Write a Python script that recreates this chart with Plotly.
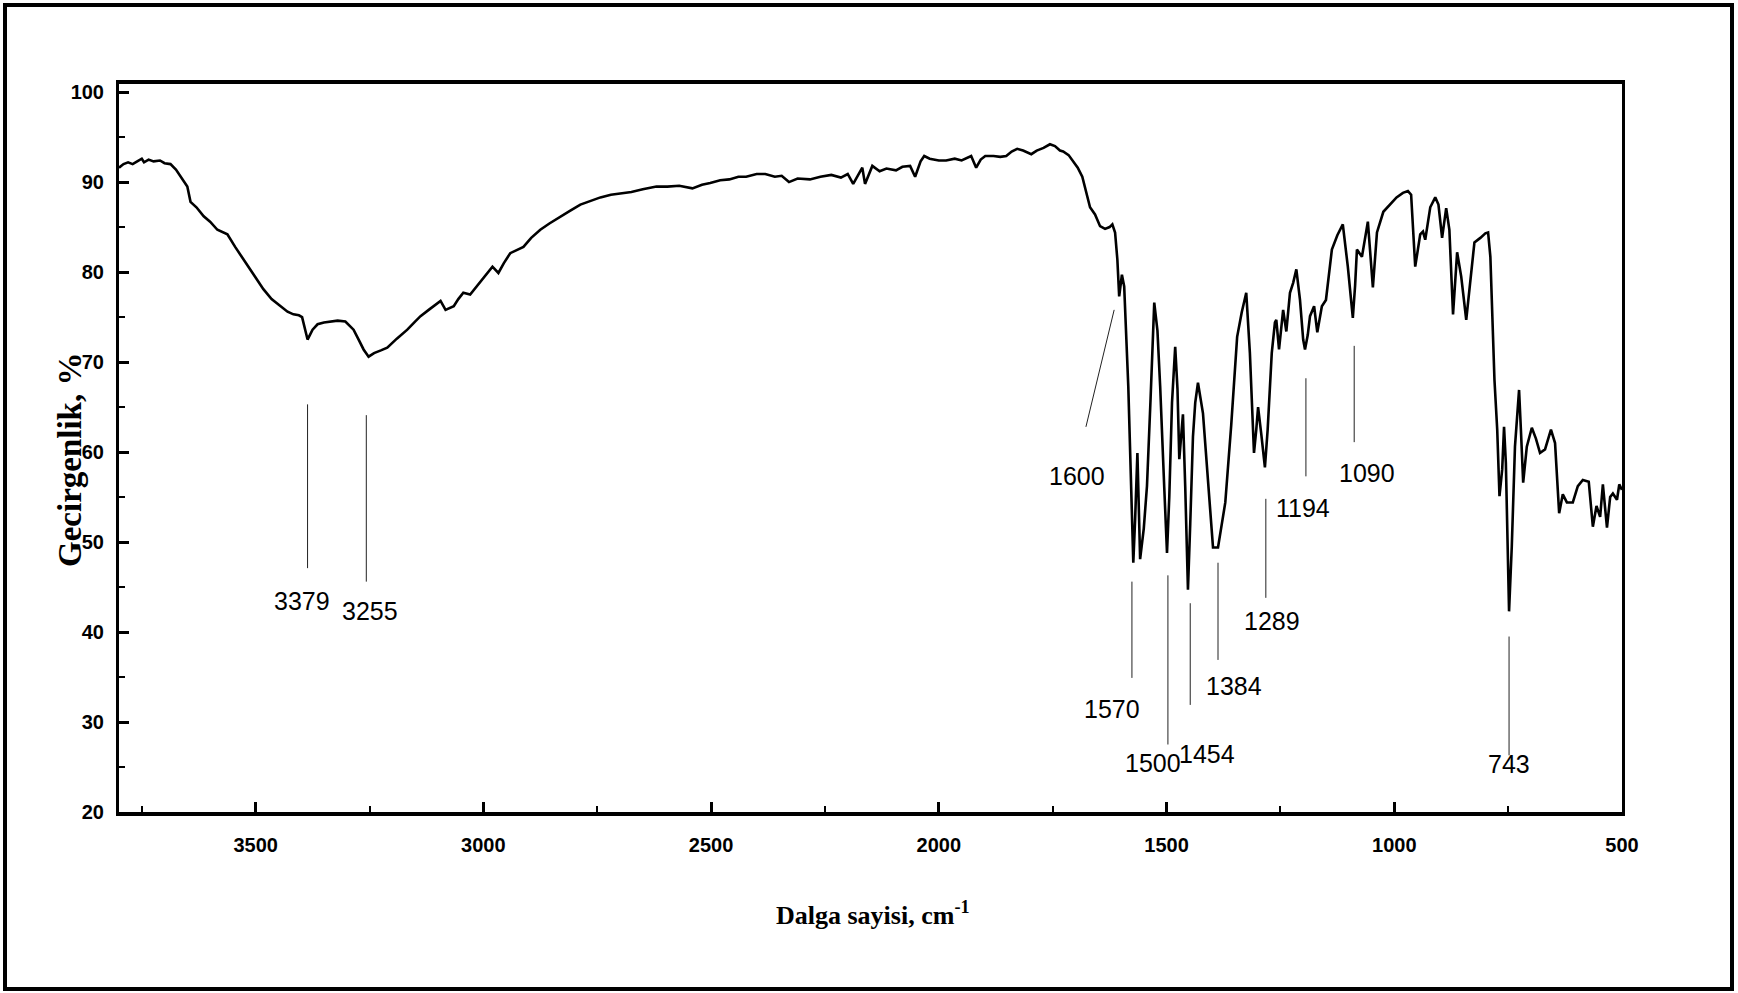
import plotly.graph_objects as go

# ---------------- data ----------------
wavenumber = [
    3800, 3790, 3780, 3770, 3760, 3750, 3745, 3735, 3724, 3710, 3700, 3687, 3675, 3665, 3650,
    3643, 3630, 3614, 3600, 3584, 3570, 3562, 3545, 3527, 3505, 3483, 3465, 3446, 3430, 3417,
    3405, 3398, 3390, 3386, 3375, 3364, 3350, 3336, 3320, 3303, 3290, 3285, 3273, 3263, 3252,
    3240, 3225, 3211, 3190, 3167, 3150, 3138, 3120, 3110, 3094, 3083, 3075, 3065, 3055, 3044,
    3029, 3018, 3007, 2995, 2980, 2967, 2955, 2941, 2925, 2912, 2895, 2875, 2855, 2831, 2810,
    2787, 2765, 2743, 2720, 2700, 2675, 2650, 2620, 2596, 2570, 2541, 2520, 2502, 2480, 2460,
    2440, 2423, 2400, 2381, 2360, 2345, 2329, 2310, 2283, 2260, 2236, 2215, 2200, 2188, 2175,
    2168, 2162, 2146, 2130, 2115, 2094, 2080, 2063, 2052, 2040, 2032, 2020, 2000, 1984, 1965,
    1950, 1935, 1929, 1918, 1908, 1898, 1880, 1865, 1852, 1840, 1828, 1815, 1797, 1785, 1770,
    1756, 1745, 1734, 1727, 1715, 1705, 1695, 1685, 1674, 1668, 1657, 1646, 1635, 1625, 1619,
    1613, 1608, 1604, 1598, 1593, 1584, 1576, 1573, 1569, 1564, 1561, 1558, 1550, 1543, 1535,
    1527, 1520, 1514, 1505, 1499, 1494, 1488, 1481, 1476, 1472, 1468, 1464, 1459, 1453, 1448,
    1442, 1437, 1431, 1420, 1410, 1398, 1387, 1380, 1371, 1358, 1345, 1335, 1325, 1317, 1308,
    1303, 1299, 1292, 1284, 1278, 1269, 1262, 1259, 1253, 1244, 1237, 1229, 1222, 1215, 1207,
    1200, 1196, 1190, 1185, 1176, 1169, 1159, 1150, 1137, 1125, 1113, 1102, 1091, 1086, 1082,
    1071, 1058, 1047, 1038, 1024, 1010, 995, 981, 970, 963, 954, 943, 937, 932, 921,
    910, 903, 895, 886, 879, 871, 862, 853, 842, 833, 824, 811, 800, 794, 789,
    780, 774, 769, 763, 759, 755, 748, 742, 735, 726, 722, 717, 709, 698, 689,
    680, 669, 656, 647, 638, 630, 621, 608, 597, 586, 573, 564, 556, 548, 542,
    533, 526, 520, 511, 506, 500,
]
transmittance = [
    91.6, 92.0, 92.2, 92.0, 92.3, 92.6, 92.2, 92.5, 92.3, 92.4, 92.1, 92.0, 91.4, 90.6, 89.5,
    87.8, 87.2, 86.2, 85.6, 84.7, 84.4, 84.2, 82.8, 81.4, 79.7, 78.1, 77.0, 76.2, 75.6, 75.3,
    75.2, 75.0, 73.4, 72.5, 73.6, 74.2, 74.4, 74.5, 74.6, 74.5, 73.9, 73.6, 72.4, 71.4, 70.6,
    71.0, 71.3, 71.6, 72.6, 73.6, 74.5, 75.1, 75.8, 76.2, 76.8, 75.8, 76.0, 76.2, 77.0, 77.7,
    77.5, 78.2, 78.8, 79.6, 80.6, 79.9, 81.0, 82.1, 82.5, 82.8, 83.8, 84.7, 85.4, 86.2, 86.8,
    87.5, 87.9, 88.3, 88.6, 88.7, 88.9, 89.2, 89.5, 89.5, 89.6, 89.3, 89.7, 89.9, 90.2, 90.3,
    90.6, 90.6, 90.9, 90.9, 90.6, 90.7, 90.0, 90.4, 90.3, 90.6, 90.8, 90.5, 90.9, 89.8, 91.0,
    91.6, 89.8, 91.8, 91.2, 91.5, 91.3, 91.7, 91.8, 90.6, 92.3, 92.9, 92.6, 92.4, 92.4, 92.6,
    92.4, 92.8, 92.9, 91.6, 92.5, 92.9, 92.9, 92.8, 92.9, 93.4, 93.7, 93.5, 93.1, 93.5, 93.8,
    94.2, 94.0, 93.5, 93.4, 93.0, 92.3, 91.6, 90.6, 88.4, 87.2, 86.4, 85.1, 84.8, 85.0, 85.3,
    84.4, 81.4, 77.3, 79.7, 78.4, 67.3, 52.0, 47.7, 52.5, 59.9, 54.0, 48.1, 51.5, 56.2, 66.0,
    76.6, 73.5, 67.3, 56.0, 48.8, 55.0, 65.5, 71.7, 67.0, 59.2, 62.0, 64.2, 56.2, 44.7, 52.0,
    61.7, 65.5, 67.7, 64.3, 57.0, 49.4, 49.4, 51.5, 54.4, 63.0, 72.8, 75.5, 77.7, 71.0, 59.9,
    62.5, 65.0, 62.0, 58.3, 62.5, 71.0, 74.4, 74.7, 71.4, 75.8, 73.4, 77.7, 78.8, 80.3, 76.9,
    72.5, 71.4, 73.0, 75.1, 76.2, 73.3, 76.2, 76.9, 82.5, 84.1, 85.3, 80.6, 74.9, 78.5, 82.5,
    81.7, 85.6, 78.3, 84.4, 86.7, 87.5, 88.3, 88.8, 89.0, 88.6, 80.6, 84.2, 84.5, 83.6, 87.2,
    88.3, 87.5, 83.8, 87.1, 84.7, 75.3, 82.2, 79.5, 74.7, 79.2, 83.3, 83.8, 84.3, 84.4, 81.7,
    68.0, 62.5, 55.1, 58.1, 62.8, 58.8, 42.3, 49.5, 60.6, 66.9, 62.5, 56.6, 60.6, 62.7, 61.5,
    59.9, 60.3, 62.5, 61.0, 53.2, 55.3, 54.4, 54.4, 56.2, 56.9, 56.7, 51.7, 54.0, 52.8, 56.4,
    51.6, 55.0, 55.4, 54.7, 56.4, 55.8,
]

x_tick_values = [3500, 3000, 2500, 2000, 1500, 1000, 500]
y_tick_values = [20, 30, 40, 50, 60, 70, 80, 90, 100]

peak_labels = ["3379", "3255", "1600", "1570", "1500", "1454", "1384", "1289", "1194", "1090", "743"]

# ---------------- layout helpers (positions of annotation labels / leader lines) ----------------
# (line x0, line y0, line x1, line y1, label x, label y)
peak_marks = [
    (3386, 47.1, 3386, 65.3, 3398, 43.4),
    (3257, 45.6, 3257, 64.1, 3250, 42.3),
    (1677, 62.8, 1615, 75.8, 1696, 57.3),
    (1576, 34.9, 1576, 45.6, 1620, 31.5),
    (1497, 27.5, 1497, 46.3, 1530, 25.5),
    (1448, 31.9, 1448, 43.2, 1411, 26.5),
    (1387, 36.9, 1387, 47.7, 1352, 34.0),
    (1282, 43.8, 1282, 54.8, 1268, 41.2),
    (1194, 57.3, 1194, 68.2, 1200, 53.8),
    (1088, 61.1, 1088, 71.8, 1060, 57.7),
    (748, 26.3, 748, 39.5, 748, 25.3),
]

W, H = 1738, 993
ML, MR, MT, MB = 119, 116, 84, 181
PW, PH = W - ML - MR, H - MT - MB


def px_to_paper(px, py):
    return (px - ML) / PW, (H - MB - py) / PH


fig = go.Figure()
fig.add_trace(go.Scatter(
    x=wavenumber, y=transmittance, mode="lines",
    line=dict(color="black", width=2.6), hoverinfo="skip", showlegend=False,
))

shapes = []
annotations = []
for (x0, y0, x1, y1, lx, ly), lab in zip(peak_marks, peak_labels):
    shapes.append(dict(type="line", xref="x", yref="y", x0=x0, y0=y0, x1=x1, y1=y1,
                       line=dict(color="#222222", width=1)))
    annotations.append(dict(x=lx, y=ly, xref="x", yref="y", text=lab, showarrow=False,
                            font=dict(family="Liberation Sans Narrow, Arial Narrow, Liberation Sans, sans-serif",
                                      size=25, color="black")))

# outer frame
fx0, fy0 = px_to_paper(5, 989)
fx1, fy1 = px_to_paper(1732, 5)
shapes.append(dict(type="rect", xref="paper", yref="paper", x0=fx0, y0=fy0, x1=fx1, y1=fy1,
                   line=dict(color="black", width=4), fillcolor="rgba(0,0,0,0)", layer="above"))

# axis titles
tx, ty = px_to_paper(50, 460)
annotations.append(dict(x=tx, y=ty, xref="paper", yref="paper", text="Gecirgenlik, %",
                        textangle=-90, showarrow=False,
                        font=dict(family="Liberation Serif, Times New Roman, serif", size=33,
                                  color="black", weight="bold")))
tx, ty = px_to_paper(873, 932)
annotations.append(dict(x=tx, y=ty, xref="paper", yref="paper",
                        text="Dalga sayisi, cm<sup>-1</sup>", showarrow=False,
                        font=dict(family="Liberation Serif, Times New Roman, serif", size=26,
                                  color="black", weight="bold")))

tick_font = dict(family="Liberation Sans Narrow, Arial Narrow, Liberation Sans, sans-serif", size=20,
                 color="black", weight="bold")

fig.update_layout(
    width=W, height=H,
    margin=dict(l=ML, r=MR, t=MT, b=MB, pad=0),
    paper_bgcolor="white", plot_bgcolor="white",
    shapes=shapes, annotations=annotations,
    xaxis=dict(
        range=[3800, 500], autorange=False,
        tickmode="array", tickvals=x_tick_values, ticktext=[str(v) for v in x_tick_values],
        ticks="inside", ticklen=10, tickwidth=2.5, tickcolor="black",
        minor=dict(ticks="inside", ticklen=6, tickwidth=2, tickcolor="black",
                   tickmode="linear", tick0=3750, dtick=500),
        showline=True, linewidth=3.5, linecolor="black", mirror=True,
        showgrid=False, zeroline=False, tickfont=tick_font, ticklabelstandoff=12,
    ),
    yaxis=dict(
        range=[20, 100.9], autorange=False,
        tickmode="array", tickvals=y_tick_values, ticktext=[str(v) for v in y_tick_values],
        ticks="inside", ticklen=10, tickwidth=2.5, tickcolor="black",
        minor=dict(ticks="inside", ticklen=6, tickwidth=2, tickcolor="black",
                   tickmode="linear", tick0=25, dtick=10),
        showline=True, linewidth=3, linecolor="black", mirror=True,
        showgrid=False, zeroline=False, tickfont=tick_font, ticklabelstandoff=8,
    ),
)

fig.write_html("out.html", config={"displayModeBar": False},
               post_script="document.body.style.margin='0';document.body.style.overflow='hidden';")
